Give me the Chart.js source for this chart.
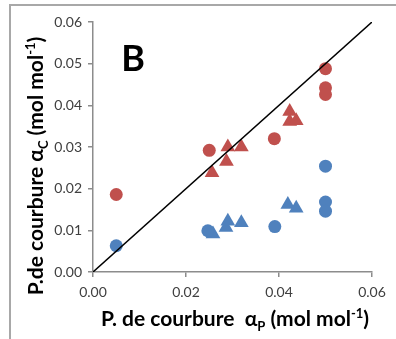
<!DOCTYPE html>
<html>
<head>
<meta charset="utf-8">
<script src="https://cdn.jsdelivr.net/npm/chart.js@4.4.1/dist/chart.umd.min.js"></script>
<style>
  html, body { margin: 0; padding: 0; background: #fff; }
  #wrap { position: relative; width: 396px; height: 339px; overflow: hidden; }
  #frame { position: absolute; left: 9px; top: 4px; right: -4px; bottom: -4px;
           border-top: 2px solid #a8a8a8; border-left: 2px solid #a8a8a8; }
  #chart { position: absolute; left: 0; top: 0; }
</style>
</head>
<body>
<div id="wrap">
  <div id="frame"></div>
  <canvas id="chart" width="396" height="339"></canvas>
</div>
<script>
// values
const redCircleX = [0.005, 0.025, 0.039, 0.050, 0.050, 0.050]
const redCircleY = [0.0186, 0.0292, 0.0320, 0.0488, 0.0442, 0.0426]
const redTriX = [0.0256, 0.0287, 0.0290, 0.0319, 0.0423, 0.0423, 0.0437]
const redTriY = [0.0238, 0.0265, 0.0300, 0.0300, 0.0385, 0.0361, 0.0363]
const blueCircleX = [0.005, 0.0247, 0.0391, 0.050, 0.050, 0.050]
const blueCircleY = [0.0063, 0.0099, 0.0109, 0.0254, 0.0168, 0.0146]
const blueTriX = [0.0258, 0.0286, 0.0290, 0.0319, 0.0419, 0.0437]
const blueTriY = [0.0091, 0.0107, 0.0122, 0.0118, 0.0162, 0.0153]
const oneToOneX = [0, 0.06]
const oneToOneY = [0, 0.06]

const xTicks = [0, 0.02, 0.04, 0.06]
const yTicks = [0, 0.01, 0.02, 0.03, 0.04, 0.05, 0.06]

const panelLabel = 'B'
const xTitle = [['P. de courbure  α'], ['P', 'sub'], [' (mol mol'], ['-1', 'sup'], [')']]
const yTitle = [['P.de courbure α'], ['C', 'sub'], [' (mol mol'], ['-1', 'sup'], [')']]

const red = '#C0504D'
const blue = '#4F81BD'
const fontFam = 'Lato, "Open Sans", sans-serif'

const pts = (xs, ys) => xs.map((x, i) => ({x, y: ys[i]}))

function drawRich(ctx, parts, cx, baseY, size) {
    const setFont = (kind) => {
        const s = kind ? Math.round(size * 0.62) : size
        ctx.font = 'bold ' + s + 'px ' + fontFam
    }
    let total = 0
    parts.forEach(([t, kind]) => { setFont(kind); total += ctx.measureText(t).width })
    let x = cx - total / 2
    ctx.textAlign = 'left'
    ctx.textBaseline = 'alphabetic'
    parts.forEach(([t, kind]) => {
        setFont(kind)
        let dy = 0
        if (kind === 'sub') dy = size * 0.22
        if (kind === 'sup') dy = -size * 0.4
        ctx.fillText(t, x, baseY + dy)
        x += ctx.measureText(t).width
    })
}

const textPlugin = {
    id: 'texts',
    afterDraw(chart) {
        const ctx = chart.ctx
        ctx.save()
        ctx.fillStyle = '#000'
        ctx.font = 'bold 36px ' + fontFam
        ctx.textAlign = 'center'
        ctx.textBaseline = 'middle'
        ctx.fillText(panelLabel, 133, 59)
        drawRich(ctx, xTitle, 235, 326, 21)
        ctx.translate(43, 166)
        ctx.rotate(-Math.PI / 2)
        drawRich(ctx, yTitle, 0, 0, 21)
        ctx.restore()
    }
}

const axisGray = '#8c8c8c'
const tickFont = {family: fontFam, size: 14}

new Chart(document.getElementById('chart'), {
    type: 'scatter',
    data: {
        datasets: [
            {
                type: 'line',
                data: pts(oneToOneX, oneToOneY),
                borderColor: '#000',
                borderWidth: 1.5,
                pointRadius: 0,
                fill: false
            },
            {
                data: pts(redCircleX, redCircleY),
                backgroundColor: red,
                borderColor: red,
                pointStyle: 'circle',
                pointRadius: 6.5,
                borderWidth: 0
            },
            {
                data: pts(redTriX, redTriY),
                backgroundColor: red,
                borderColor: red,
                pointStyle: 'triangle',
                pointRadius: 8.5,
                borderWidth: 0
            },
            {
                data: pts(blueCircleX, blueCircleY),
                backgroundColor: blue,
                borderColor: blue,
                pointStyle: 'circle',
                pointRadius: 6.5,
                borderWidth: 0
            },
            {
                data: pts(blueTriX, blueTriY),
                backgroundColor: blue,
                borderColor: blue,
                pointStyle: 'triangle',
                pointRadius: 8.5,
                borderWidth: 0
            }
        ]
    },
    options: {
        responsive: false,
        animation: false,
        layout: {padding: {top: 22, right: 24, left: 0, bottom: 0}},
        plugins: {legend: {display: false}, tooltip: {enabled: false}},
        scales: {
            x: {
                type: 'linear',
                min: xTicks[0],
                max: xTicks[xTicks.length - 1],
                afterBuildTicks: (s) => { s.ticks = xTicks.map(v => ({value: v})) },
                afterFit: (s) => { s.height = 67 },
                border: {color: axisGray, width: 1.5},
                grid: {drawOnChartArea: false, drawTicks: true, tickLength: 5, color: axisGray, lineWidth: 1.5},
                ticks: {color: '#404040', font: tickFont, padding: 7, callback: v => v.toFixed(2)}
            },
            y: {
                type: 'linear',
                min: yTicks[0],
                max: yTicks[yTicks.length - 1],
                afterBuildTicks: (s) => { s.ticks = yTicks.map(v => ({value: v})) },
                afterFit: (s) => { s.width = 93 },
                border: {color: axisGray, width: 1.5},
                grid: {drawOnChartArea: false, drawTicks: true, tickLength: 5, color: axisGray, lineWidth: 1.5},
                ticks: {color: '#404040', font: tickFont, padding: 6, callback: v => v.toFixed(2)}
            }
        }
    },
    plugins: [textPlugin]
})
</script>
</body>
</html>
